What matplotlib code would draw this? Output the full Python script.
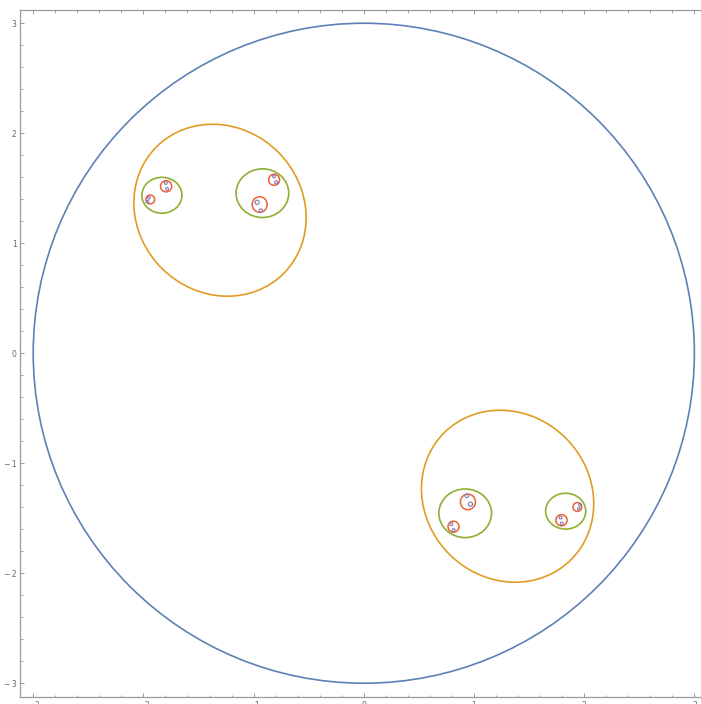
import matplotlib.pyplot as plt
from matplotlib.patches import Ellipse
from matplotlib.ticker import MultipleLocator
import numpy as np

# nested clusters: (x, y, half-width, half-height)
outer = [(0.0, 0.0, 3.0, 3.0)]

orange_xy = [(-1.305, 1.30), (1.305, -1.30)]
orange_ab = [(0.815, 0.747), (0.815, 0.747)]
orange_angle = [-45, -45]

green = [(-1.832, 1.436, 0.182, 0.163),
         (-0.920, 1.455, 0.239, 0.221),
         (0.920, -1.455, 0.239, 0.221),
         (1.832, -1.436, 0.182, 0.163)]

red = [(-1.794, 1.518, 0.051, 0.051),
       (-1.938, 1.398, 0.040, 0.040),
       (-0.814, 1.577, 0.050, 0.050),
       (-0.945, 1.352, 0.068, 0.071),
       (0.945, -1.352, 0.068, 0.071),
       (0.814, -1.577, 0.050, 0.050),
       (1.938, -1.398, 0.040, 0.040),
       (1.794, -1.518, 0.051, 0.051)]

purple = [(-1.797, 1.548, 0.013), (-1.786, 1.494, 0.013),
          (-1.951, 1.414, 0.012), (-1.962, 1.377, 0.012),
          (-0.815, 1.608, 0.013), (-0.795, 1.553, 0.014),
          (-0.968, 1.372, 0.019), (-0.935, 1.296, 0.016),
          (0.968, -1.372, 0.019), (0.935, -1.296, 0.016),
          (0.815, -1.608, 0.013), (0.795, -1.553, 0.014),
          (1.951, -1.414, 0.012), (1.962, -1.377, 0.012),
          (1.797, -1.548, 0.013), (1.786, -1.494, 0.013)]

c_blue = '#5E81B5'
c_orange = '#E19C24'
c_green = '#8FB032'
c_red = '#EB6235'
c_purple = '#8778B3'

fig = plt.figure(figsize=(7.01, 7.04), dpi=100)
ax = fig.add_axes([20/701, 6.7/704, 687.6/701, 687.6/704])

for x, y, a, b in outer:
    ax.add_patch(Ellipse((x, y), 2*a, 2*b, fill=False, ec=c_blue, lw=1.2))

for (x, y), (a, b), ang in zip(orange_xy, orange_ab, orange_angle):
    ax.add_patch(Ellipse((x, y), 2*a, 2*b, angle=ang, fill=False, ec=c_orange, lw=1.2))

for x, y, a, b in green:
    ax.add_patch(Ellipse((x, y), 2*a, 2*b, fill=False, ec=c_green, lw=1.2))

for x, y, a, b in red:
    ax.add_patch(Ellipse((x, y), 2*a, 2*b, fill=False, ec=c_red, lw=1.1))

for x, y, r in purple:
    ax.add_patch(Ellipse((x, y), 2*r, 2*r, fill=False, ec=c_purple, lw=0.8))

ax.set_xlim(-3.12, 3.12)
ax.set_ylim(-3.128, 3.123)

# frame styling
for s in ax.spines.values():
    s.set_color('#9a9a9a')
    s.set_linewidth(0.9)

ticks = [-3, -2, -1, 0, 1, 2, 3]
labels = [str(t).replace('-', '\u2212\u2009') for t in ticks]
ax.set_xticks(ticks)
ax.set_xticklabels(labels)
ax.set_yticks(ticks)
ax.set_yticklabels(labels)
ax.xaxis.set_minor_locator(MultipleLocator(0.2))
ax.yaxis.set_minor_locator(MultipleLocator(0.2))
ax.tick_params(which='both', direction='in', top=True, right=True,
               color='#9a9a9a', labelcolor='#666666', labelsize=5.5, pad=2.5)
ax.tick_params(which='major', length=3.2, width=0.7)
ax.tick_params(which='minor', length=1.8, width=0.6)

fig.savefig('out.png', dpi=100)
